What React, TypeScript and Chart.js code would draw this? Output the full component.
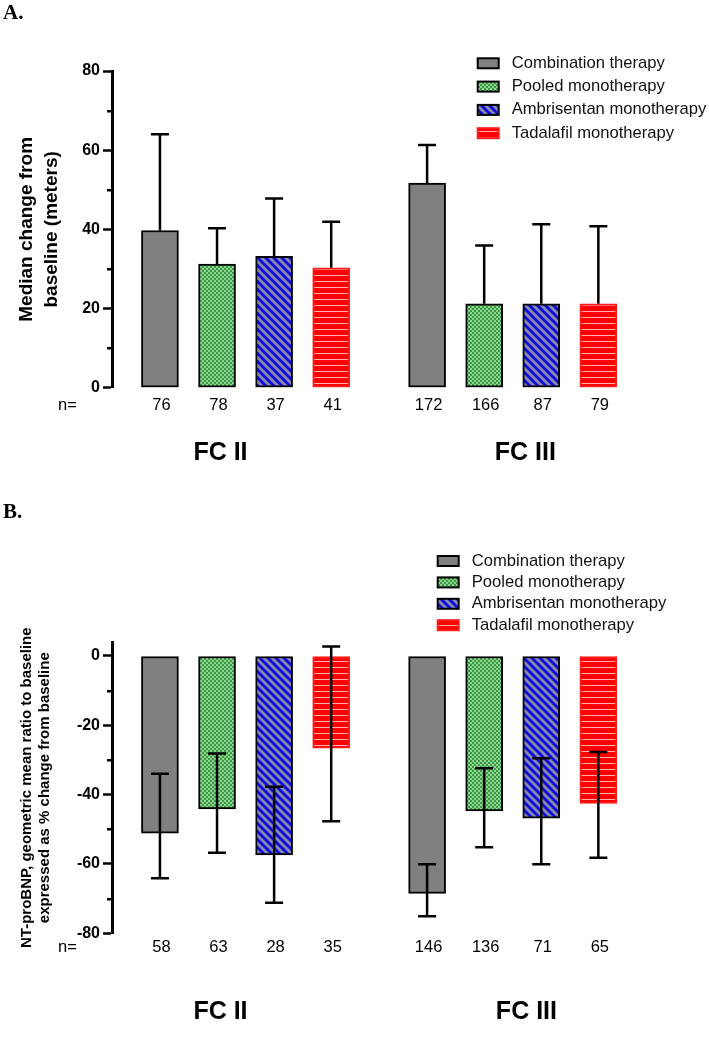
import React, { useEffect, useRef } from 'react';
import { Chart, registerables } from 'chart.js';

Chart.register(...registerables);

const FONT = '"Liberation Sans", Arial, Helvetica, sans-serif';
Chart.defaults.font.family = FONT;

// ---------- shared categories ----------
const seriesLabels = ['Combination therapy', 'Pooled monotherapy', 'Ambrisentan monotherapy', 'Tadalafil monotherapy'];
const groupLabels = ['FC II', 'FC III'];

// ---------- Panel A: median change from baseline (meters); each array = [FC II, FC III] ----------
const aCombination = [39.7, 51.7];
const aPooled = [31.2, 21.2];
const aAmbrisentan = [33.2, 21.2];
const aTadalafil = [30.3, 21.2];

const aCombinationUpper = [64.0, 61.3];
const aPooledUpper = [40.3, 35.9];
const aAmbrisentanUpper = [47.8, 41.3];
const aTadalafilUpper = [41.9, 40.8];

const aCombinationN = [76, 172];
const aPooledN = [78, 166];
const aAmbrisentanN = [37, 87];
const aTadalafilN = [41, 79];

const aTicks = [0, 20, 40, 60, 80];
const aMinorTicks = [10, 30, 50, 70];

// ---------- Panel B: NT-proBNP % change from baseline; each array = [FC II, FC III] ----------
const bCombination = [-51.1, -68.5];
const bPooled = [-44.1, -44.7];
const bAmbrisentan = [-57.4, -46.8];
const bTadalafil = [-26.6, -42.5];

const bCombinationLower = [-64.1, -75.1];
const bPooledLower = [-56.8, -55.2];
const bAmbrisentanLower = [-71.2, -60.1];
const bTadalafilLower = [-47.7, -58.2];

const bCombinationUpper = [-34.0, -60.1];
const bPooledUpper = [-28.1, -32.4];
const bAmbrisentanUpper = [-37.7, -29.5];
const bTadalafilUpper = [2.7, -27.7];

const bCombinationN = [58, 146];
const bPooledN = [63, 136];
const bAmbrisentanN = [28, 71];
const bTadalafilN = [35, 65];

const bTicks = [-80, -60, -40, -20, 0];
const bMinorTicks = [-70, -50, -30, -10];

// ---------- layout constants ----------
const GROUP_OFFSET = 4.68; // x-units between first bars of the two groups
const X_MIN = -0.84;
const X_MAX = 8.76;
const AXIS_LEFT = 112;

function makePatterns(ctx: CanvasRenderingContext2D) {
  const mk = (w: number, h: number, draw: (g: CanvasRenderingContext2D) => void) => {
    const c = document.createElement('canvas');
    c.width = w;
    c.height = h;
    const g = c.getContext('2d') as CanvasRenderingContext2D;
    draw(g);
    return ctx.createPattern(c, 'repeat') as CanvasPattern;
  };
  const gray = '#808080';
  const checker = mk(4, 4, (g) => {
    g.fillStyle = '#92d492';
    g.fillRect(0, 0, 4, 4);
    g.fillStyle = '#379a43';
    g.fillRect(0, 0, 2, 2);
    g.fillRect(2, 2, 2, 2);
  });
  const stripes = mk(8, 8, (g) => {
    g.fillStyle = '#8a8aac';
    g.fillRect(0, 0, 8, 8);
    g.strokeStyle = '#0c0cdc';
    g.lineWidth = 3;
    for (const k of [-8, 0, 8]) {
      g.beginPath();
      g.moveTo(k - 1, -1);
      g.lineTo(k + 9, 9);
      g.stroke();
    }
  });
  const hlines = mk(4, 6, (g) => {
    g.fillStyle = '#ff0000';
    g.fillRect(0, 0, 4, 6);
    g.fillStyle = '#ffb0b0';
    g.fillRect(0, 5, 4, 1);
  });
  return [gray, checker, stripes, hlines];
}

const errorBarsPlugin = {
  id: 'errorBars',
  afterDatasetsDraw(chart: any, _args: any, opts: any) {
    const ctx = chart.ctx as CanvasRenderingContext2D;
    const ys = chart.scales.y;
    ctx.save();
    ctx.strokeStyle = '#000';
    ctx.lineWidth = 2.5;
    chart.data.datasets.forEach((ds: any, i: number) => {
      chart.getDatasetMeta(i).data.forEach((bar: any, j: number) => {
        const x = bar.x;
        const yLo = ys.getPixelForValue(ds.errLow[j]);
        const yHi = ys.getPixelForValue(ds.errHigh[j]);
        ctx.beginPath();
        ctx.moveTo(x, yLo);
        ctx.lineTo(x, yHi);
        ctx.moveTo(x - opts.cap, yHi);
        ctx.lineTo(x + opts.cap, yHi);
        if (opts.capLow) {
          ctx.moveTo(x - opts.cap, yLo);
          ctx.lineTo(x + opts.cap, yLo);
        }
        ctx.stroke();
      });
    });
    ctx.restore();
  },
};

const annotatePlugin = {
  id: 'annotate',
  afterDraw(chart: any, _args: any, o: any) {
    const ctx = chart.ctx as CanvasRenderingContext2D;
    const area = chart.chartArea;
    const xs = chart.scales.x;
    const ys = chart.scales.y;
    ctx.save();
    // minor ticks
    ctx.strokeStyle = '#000';
    ctx.lineWidth = 2.5;
    o.minorTicks.forEach((v: number) => {
      const py = Math.round(ys.getPixelForValue(v)) + 0.25;
      ctx.beginPath();
      ctx.moveTo(area.left - 5, py);
      ctx.lineTo(area.left, py);
      ctx.stroke();
    });
    // n labels
    ctx.fillStyle = '#000';
    ctx.textAlign = 'center';
    ctx.textBaseline = 'middle';
    ctx.font = `16.5px ${FONT}`;
    ctx.fillText('n=', o.nPrefixX, o.nY);
    chart.data.datasets.forEach((ds: any, i: number) => {
      chart.getDatasetMeta(i).data.forEach((bar: any, j: number) => {
        ctx.fillText(String(ds.n[j]), bar.x + 1.5, o.nY);
      });
    });
    // group labels
    ctx.font = `bold 25px ${FONT}`;
    o.groups.forEach((g: any) => {
      ctx.fillText(g.label, xs.getPixelForValue(g.x), o.groupY);
    });
    // legend
    const L = o.legend;
    ctx.font = `16.6px ${FONT}`;
    ctx.textAlign = 'left';
    chart.data.datasets.forEach((ds: any, i: number) => {
      const cy = L.y0 + i * L.dy;
      ctx.fillStyle = ds.backgroundColor;
      ctx.fillRect(L.x, cy - L.h / 2, L.w, L.h);
      ctx.strokeStyle = ds.borderColor;
      ctx.lineWidth = 2;
      ctx.strokeRect(L.x, cy - L.h / 2, L.w, L.h);
      ctx.fillStyle = '#111';
      ctx.fillText(ds.label, L.textX, cy);
    });
    ctx.restore();
  },
};

type PanelSpec = {
  top: number;
  height: number;
  values: number[][];
  low: number[][];
  high: number[][];
  ns: number[][];
  capLow: boolean;
  yMin: number;
  yMax: number;
  ticks: number[];
  minorTicks: number[];
  padTop: number;
  padBottom: number;
  title: string[];
  titleSize: number;
  titleLine: number;
  titlePad: number;
  nY: number;
  groupY: number;
  groupX: number[];
  legend: { x: number; textX: number; y0: number; dy: number; w: number; h: number };
};

function buildConfig(spec: PanelSpec, ctx: CanvasRenderingContext2D): any {
  const fills = makePatterns(ctx);
  const borders = ['#000', '#000', '#000', '#ff1a1a'];
  const datasets = seriesLabels.map((label, s) => ({
    label,
    data: spec.values[s].map((v, g) => ({ x: s + g * GROUP_OFFSET, y: v })),
    backgroundColor: fills[s],
    borderColor: borders[s],
    borderWidth: 2,
    borderSkipped: false,
    barThickness: 37,
    grouped: false,
    errLow: spec.low[s],
    errHigh: spec.high[s],
    n: spec.ns[s],
  }));
  return {
    type: 'bar',
    data: { datasets },
    options: {
      animation: false,
      responsive: false,
      maintainAspectRatio: false,
      events: [],
      layout: { padding: { left: 0, right: 709 - 660, top: spec.padTop, bottom: spec.padBottom } },
      plugins: {
        legend: { display: false },
        tooltip: { enabled: false },
        errorBars: { cap: 9, capLow: spec.capLow },
        annotate: {
          minorTicks: spec.minorTicks,
          nPrefixX: 67.5,
          nY: spec.nY,
          groupY: spec.groupY,
          groups: groupLabels.map((label, i) => ({ label, x: spec.groupX[i] })),
          legend: spec.legend,
        },
      },
      scales: {
        x: { type: 'linear', display: false, offset: false, min: X_MIN, max: X_MAX },
        y: {
          type: 'linear',
          min: spec.yMin,
          max: spec.yMax,
          afterFit: (s: any) => {
            s.width = AXIS_LEFT;
          },
          afterBuildTicks: (s: any) => {
            s.ticks = spec.ticks.map((v) => ({ value: v }));
          },
          ticks: {
            color: '#000',
            padding: 3,
            font: { family: FONT, size: 16, weight: 'bold' },
          },
          grid: {
            drawOnChartArea: false,
            drawTicks: true,
            tickLength: 9,
            tickWidth: 2.5,
            tickColor: '#000',
          },
          border: { display: true, color: '#000', width: 3 },
          title: {
            display: true,
            text: spec.title,
            color: '#000',
            font: { family: FONT, size: spec.titleSize, weight: 'bold', lineHeight: spec.titleLine / spec.titleSize },
            padding: { top: spec.titlePad, bottom: 0 },
          },
        },
      },
    },
  };
}

const panelA: PanelSpec = {
  top: 0,
  height: 470,
  values: [aCombination, aPooled, aAmbrisentan, aTadalafil],
  low: [aCombination, aPooled, aAmbrisentan, aTadalafil],
  high: [aCombinationUpper, aPooledUpper, aAmbrisentanUpper, aTadalafilUpper],
  ns: [aCombinationN, aPooledN, aAmbrisentanN, aTadalafilN],
  capLow: false,
  yMin: 0,
  yMax: 80,
  ticks: aTicks,
  minorTicks: aMinorTicks,
  padTop: 71,
  padBottom: 470 - 387.7,
  title: ['Median change from', 'baseline (meters)'],
  titleSize: 19,
  titleLine: 25,
  titlePad: 14.5,
  nY: 405,
  groupY: 453,
  groupX: [1.06, 6.4],
  legend: { x: 477.7, textX: 511.7, y0: 63.3, dy: 23.3, w: 21, h: 10 },
};

const panelB: PanelSpec = {
  top: 470,
  height: 577,
  values: [bCombination, bPooled, bAmbrisentan, bTadalafil],
  low: [bCombinationLower, bPooledLower, bAmbrisentanLower, bTadalafilLower],
  high: [bCombinationUpper, bPooledUpper, bAmbrisentanUpper, bTadalafilUpper],
  ns: [bCombinationN, bPooledN, bAmbrisentanN, bTadalafilN],
  capLow: true,
  yMin: -80,
  yMax: 4,
  ticks: bTicks,
  minorTicks: bMinorTicks,
  padTop: 172.1,
  padBottom: 577 - 463.3,
  title: ['NT-proBNP, geometric mean ratio to baseline', 'expressed as % change from baseline'],
  titleSize: 15,
  titleLine: 18,
  titlePad: 17.7,
  nY: 477.7,
  groupY: 541.7,
  groupX: [1.06, 6.42],
  legend: { x: 437.7, textX: 471.7, y0: 91, dy: 21.4, w: 21, h: 10 },
};

function Panel({ spec }: { spec: PanelSpec }) {
  const ref = useRef<HTMLCanvasElement | null>(null);
  useEffect(() => {
    const canvas = ref.current;
    if (!canvas) return;
    const ctx = canvas.getContext('2d') as CanvasRenderingContext2D;
    const chart = new Chart(ctx, { ...buildConfig(spec, ctx), plugins: [errorBarsPlugin, annotatePlugin] });
    return () => chart.destroy();
  }, [spec]);
  return (
    <canvas
      ref={ref}
      width={709}
      height={spec.height}
      style={{ position: 'absolute', left: 0, top: spec.top, width: 709, height: spec.height, display: 'block' }}
    />
  );
}

const letterStyle: React.CSSProperties = {
  position: 'absolute',
  left: 3,
  fontFamily: '"Liberation Serif", "Times New Roman", serif',
  fontWeight: 'bold',
  fontSize: 21,
  lineHeight: '21px',
  color: '#000',
  zIndex: 2,
};

export default function App() {
  return (
    <div style={{ position: 'absolute', left: 0, top: 0, width: 709, height: 1047, background: '#fff', overflow: 'hidden' }}>
      <Panel spec={panelA} />
      <Panel spec={panelB} />
      <div style={{ ...letterStyle, top: 2 }}>A.</div>
      <div style={{ ...letterStyle, top: 501 }}>B.</div>
    </div>
  );
}
